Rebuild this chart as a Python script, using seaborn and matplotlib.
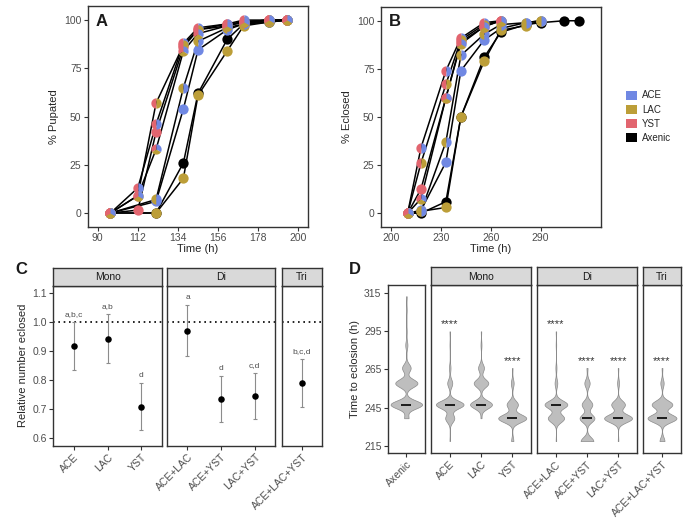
import numpy as np
import pandas as pd
import matplotlib
matplotlib.use("Agg")
import matplotlib.pyplot as plt
from matplotlib.patches import Patch
import seaborn as sns

# ---- data ----
treatments = ["Axenic", "ACE", "LAC", "ACE+LAC", "YST", "ACE+YST", "LAC+YST", "ACE+LAC+YST"]

# panel A: % pupated over time
pupa_times_yst = [97, 112, 122, 137, 145, 161, 170, 184, 194]
pupa_times_other = [97, 122, 137, 145, 161, 170, 184, 194]
pupa_pct = {
    "Axenic": [0, 0, 26, 62, 90, 98, 99, 100],
    "ACE": [0, 6, 54, 84.5, 95, 98, 99, 100],
    "LAC": [0, 0, 18, 61, 84, 97, 99, 100],
    "ACE+LAC": [0, 7, 65, 89, 96, 98, 100, 100],
    "YST": [0, 1.5, 42, 86, 95, 98, 99, 100, 100],
    "ACE+YST": [0, 13, 46, 88, 96, 98, 100, 100, 100],
    "LAC+YST": [0, 9, 57, 87, 95, 97, 99, 100, 100],
    "ACE+LAC+YST": [0, 9, 33, 84, 93, 97, 99, 100, 100],
}

# panel B: % eclosed over time
ecl_times = [210, 218, 233, 242, 256, 266, 281, 290, 304, 313]
ecl_pct = {
    "Axenic": [0, 0, 6, 50, 81, 94, 98, 99, 100, 100],
    "ACE": [0, 1.5, 26.5, 74, 90, 96, 99, 100],
    "LAC": [0, 1, 3, 50, 79, 95, 97.5, 100],
    "ACE+LAC": [0, 1, 37, 82, 93, 98, 99, 100],
    "YST": [0, 12.5, 60, 89, 97, 100],
    "ACE+YST": [0, 34, 74, 91, 99, 100],
    "LAC+YST": [0, 26, 67, 90, 98, 100],
    "ACE+LAC+YST": [0, 7.5, 60, 88, 97, 100],
}

# panel C: relative number eclosed (mean and interval)
c_groups = ["ACE", "LAC", "YST", "ACE+LAC", "ACE+YST", "LAC+YST", "ACE+LAC+YST"]
c_mean = [0.919, 0.943, 0.709, 0.971, 0.734, 0.746, 0.790]
c_low = [0.835, 0.859, 0.628, 0.884, 0.655, 0.666, 0.708]
c_high = [1.002, 1.027, 0.790, 1.059, 0.814, 0.826, 0.872]
c_letters = ["a,b,c", "a,b", "d", "a", "d", "c,d", "b,c,d"]

# panel D: number of flies eclosed at each check
d_times = [218, 233, 242, 256, 266, 281, 290, 304, 313]
d_counts = {
    "Axenic": [0, 6, 44, 31, 12, 3, 1, 1, 1],
    "ACE": [1, 18, 55, 10, 3, 1, 1, 0, 0],
    "LAC": [0, 2, 45, 30, 12, 2, 1, 0, 0],
    "YST": [4, 50, 20, 5, 1, 0, 0, 0, 0],
    "ACE+LAC": [1, 30, 42, 5, 2, 1, 1, 0, 0],
    "ACE+YST": [12, 14, 10, 5, 1, 0, 0, 0, 0],
    "LAC+YST": [1, 45, 22, 3, 1, 0, 0, 0, 0],
    "ACE+LAC+YST": [6, 35, 25, 4, 1, 0, 0, 0, 0],
}
d_signif = ["", "****", "", "****", "****", "****", "****", "****"]

facets = [("Mono", ["ACE", "LAC", "YST"]),
          ("Di", ["ACE+LAC", "ACE+YST", "LAC+YST"]),
          ("Tri", ["ACE+LAC+YST"])]

# ---- style ----
ACE_C, LAC_C, YST_C = "#7088E3", "#BC9E38", "#E2656F"
pie_cols = {
    "Axenic": ["black"], "ACE": [ACE_C], "LAC": [LAC_C], "YST": [YST_C],
    "ACE+LAC": [LAC_C, ACE_C], "ACE+YST": [YST_C, ACE_C], "LAC+YST": [YST_C, LAC_C],
    "ACE+LAC+YST": [YST_C, LAC_C, ACE_C],
}
FRAME = "#333333"
TICKTXT = "#4D4D4D"
VIOLIN_BW = 2.6  # kernel bandwidth in hours

sns.set_style("white")
plt.rcParams["font.family"] = ["Liberation Sans", "DejaVu Sans"]
plt.rcParams["axes.edgecolor"] = FRAME
plt.rcParams["axes.linewidth"] = 1.0

W, H = 697, 525
fig = plt.figure(figsize=(W / 100, H / 100), dpi=100)


def box(x0, y0, x1, y1):
    return [x0 / W, 1 - y1 / H, (x1 - x0) / W, (y1 - y0) / H]


def style_ax(ax, yaxis=True):
    ax.tick_params(direction="out", length=3, width=0.8, color=FRAME,
                   labelsize=7.5, labelcolor=TICKTXT, pad=1.5,
                   bottom=True, left=yaxis, labelleft=yaxis)
    for s in ax.spines.values():
        s.set_color(FRAME)
        s.set_linewidth(1.0)


def wedge(a0, a1):
    t = np.radians(np.linspace(a0, a1, 40))
    return np.column_stack([np.r_[0, np.cos(t), 0], np.r_[0, np.sin(t), 0]])


def pie_points(ax, x, y, cols, size=55):
    n = len(cols)
    if n == 1:
        ax.scatter(x, y, s=size, c=cols[0], marker="o", linewidths=0, zorder=3)
        return
    step = 360 / n
    for i, c in enumerate(cols):
        a0 = 90 + i * step
        ax.scatter(x, y, s=size, c=c, marker=wedge(a0, a0 + step), linewidths=0, zorder=3)


def curve_panel(ax, times_of, pct, xlim, ylim, xticks, ylabel, letter):
    rows = []
    for t in treatments:
        for x, y in zip(times_of(t), pct[t]):
            rows.append((t, x, y))
    df = pd.DataFrame(rows, columns=["treat", "time", "pct"])
    sns.lineplot(data=df, x="time", y="pct", units="treat", estimator=None,
                 color="black", lw=1.1, sort=True, ax=ax)
    for t in treatments:
        sub = df[df.treat == t]
        pie_points(ax, sub.time, sub.pct, pie_cols[t])
    ax.set_xlim(*xlim)
    ax.set_ylim(*ylim)
    ax.set_xticks(xticks)
    ax.set_yticks([0, 25, 50, 75, 100])
    ax.set_xlabel("Time (h)", fontsize=8, labelpad=1)
    ax.set_ylabel(ylabel, fontsize=8, labelpad=4)
    style_ax(ax)
    ax.text(0.035, 0.965, letter, transform=ax.transAxes, fontsize=12,
            fontweight="bold", va="top", ha="left", color="#1A1A1A")


# ---- panel A ----
axA = fig.add_axes(box(87.7, 6, 308.3, 226.7))
curve_panel(axA, lambda t: pupa_times_yst if "YST" in t else pupa_times_other,
            pupa_pct, (84.5, 205.5), (-7.1, 107.3), [90, 112, 134, 156, 178, 200],
            "% Pupated", "A")

# ---- panel B ----
axB = fig.add_axes(box(380.7, 6.7, 600.7, 226.7))
curve_panel(axB, lambda t: ecl_times[:len(ecl_pct[t])], ecl_pct,
            (193.8, 326.1), (-7.0, 107.3), [200, 230, 260, 290],
            "% Eclosed", "B")

handles = [Patch(facecolor=c, edgecolor="none") for c in [ACE_C, LAC_C, YST_C, "black"]]
fig.legend(handles, ["ACE", "LAC", "YST", "Axenic"], loc="upper left",
           bbox_to_anchor=(626 / W, 1 - 90.5 / H), frameon=False, fontsize=7,
           handlelength=1.15, handleheight=1.05, labelspacing=0.42,
           handletextpad=0.5, borderpad=0, borderaxespad=0)


def strip(x0, y0, x1, y1, label):
    s = fig.add_axes(box(x0, y0, x1, y1))
    s.set_facecolor("#D9D9D9")
    s.set_xticks([])
    s.set_yticks([])
    for sp in s.spines.values():
        sp.set_color(FRAME)
        sp.set_linewidth(1.0)
    s.text(0.5, 0.47, label, ha="center", va="center", fontsize=7.5,
           color="#1A1A1A", transform=s.transAxes)


def rot_labels(ax):
    plt.setp(ax.get_xticklabels(), rotation=45, ha="right", rotation_mode="anchor")


# ---- panel C ----
c_boxes = [(53.3, 161.7), (167.3, 275.0), (281.7, 322.3)]
for k, ((name, groups), (x0, x1)) in enumerate(zip(facets, c_boxes)):
    ax = fig.add_axes(box(x0, 285.7, x1, 445.7))
    strip(x0, 267.7, x1, 285.7, name)
    idx = [c_groups.index(g) for g in groups]
    pos = np.arange(len(groups))
    mean = np.array([c_mean[i] for i in idx])
    low = np.array([c_low[i] for i in idx])
    high = np.array([c_high[i] for i in idx])
    ax.axhline(1.0, color="black", lw=1.2, ls=(0, (1, 2.2)), zorder=1)
    ax.errorbar(pos, mean, yerr=[mean - low, high - mean], fmt="none",
                ecolor="#8C8C8C", elinewidth=0.8, capsize=1.3, capthick=0.8, zorder=2)
    sns.scatterplot(x=pos, y=mean, color="black", s=22, linewidth=0, ax=ax, zorder=3)
    for p, i in zip(pos, idx):
        ax.text(p, c_high[i] + 0.026, c_letters[i], ha="center", va="center",
                fontsize=6, color=TICKTXT)
    ax.set_xlim(-0.6, len(groups) - 0.4)
    ax.set_ylim(0.5745, 1.126)
    ax.set_xticks(pos)
    ax.set_xticklabels(groups)
    ax.set_yticks([0.6, 0.7, 0.8, 0.9, 1.0, 1.1])
    ax.set_yticklabels(["0.6", "0.7", "0.8", "0.9", "1.0", "1.1"])
    style_ax(ax, yaxis=(k == 0))
    rot_labels(ax)
    if k == 0:
        ax.set_ylabel("Relative number eclosed", fontsize=8, labelpad=3)


# ---- panel D ----
def fixed_bw(kde):
    # same kernel width (in hours) for every violin
    x = np.asarray(kde.dataset).ravel()
    return VIOLIN_BW / x.std(ddof=1)


rows = []
for g, cnt in d_counts.items():
    for t in np.repeat(d_times, cnt):
        rows.append((g, t))
dfD = pd.DataFrame(rows, columns=["group", "time"])

d_facets = [(None, ["Axenic"])] + facets
d_boxes = [(387.7, 425.0), (431.0, 531.0), (537.3, 636.7), (643.3, 680.7)]
d_widths = [1.02, 0.9, 0.9, 0.93]
for k, ((name, groups), (x0, x1)) in enumerate(zip(d_facets, d_boxes)):
    ax = fig.add_axes(box(x0, 285.0, x1, 453.3))
    if name:
        strip(x0, 267.0, x1, 285.0, name)
    sub = dfD[dfD.group.isin(groups)]
    sns.violinplot(data=sub, x="group", y="time", order=groups, cut=0,
                   density_norm="area", inner=None, width=d_widths[k],
                   bw_method=fixed_bw,
                   color="#BEBEBE", linecolor="#8A8A8A", linewidth=0.5,
                   saturation=1, ax=ax)
    for p, g in enumerate(groups):
        vals = dfD.time[dfD.group == g]
        ax.hlines(np.median(vals), p - 0.16, p + 0.16, color="black", lw=1.2, zorder=4)
        star = d_signif[treatments.index(g)]
        if star:
            ax.text(p, vals.max() + 4.5, star, ha="center", va="center",
                    fontsize=8, color="#333333")
    ax.set_xlim(-0.6, len(groups) - 0.4)
    ax.set_ylim(210, 320.4)
    ax.set_yticks([215, 240, 265, 290, 315])
    ax.set_yticklabels(["215", "245", "265", "295", "315"])
    ax.set_xlabel("")
    ax.set_ylabel("")
    style_ax(ax, yaxis=(k == 0))
    rot_labels(ax)
    if k == 0:
        ax.set_ylabel("Time to eclosion (h)", fontsize=8, labelpad=3)

# panel letters for the lower row
fig.text(15 / W, 1 - 273.5 / H, "C", fontsize=12, fontweight="bold", color="#1A1A1A")
fig.text(349 / W, 1 - 273.5 / H, "D", fontsize=12, fontweight="bold", color="#1A1A1A")

fig.savefig("out.png", dpi=100)
